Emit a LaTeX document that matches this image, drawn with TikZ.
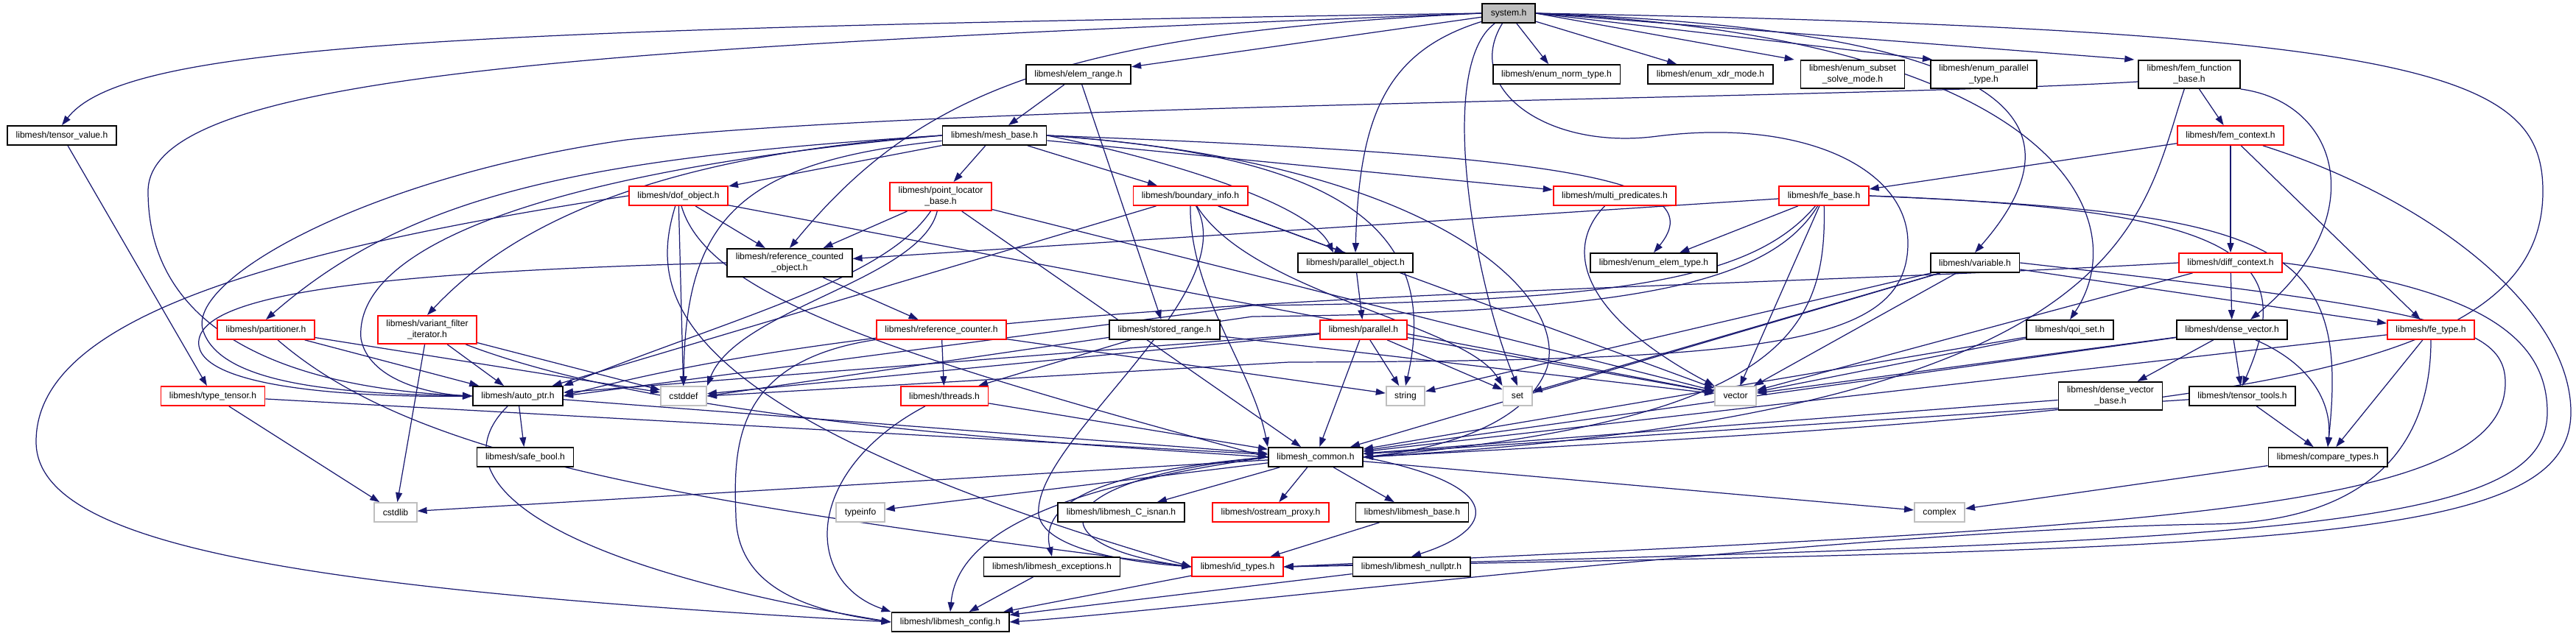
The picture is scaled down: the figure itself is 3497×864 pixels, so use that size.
\documentclass[tikz,border=0pt]{standalone}
\usepackage{fontspec}
\setmainfont{Liberation Sans}
\usepackage{tikz}
\usetikzlibrary{arrows.meta,backgrounds}
\definecolor{edgeblue}{HTML}{191970}
\definecolor{incred}{HTML}{FF0000}
\definecolor{stdgray}{HTML}{BFBFBF}
\tikzset{
  hdr/.style={draw=black, fill=white, line width=0.5pt, align=center,
    inner xsep=1.15mm, inner ysep=0.6mm, minimum height=2.6mm,
    font=\fontsize{3.45}{4.27}\selectfont},
  hdrr/.style={hdr, draw=incred},
  stdh/.style={hdr, draw=stdgray},
  topb/.style={hdr, fill=stdgray},
  inc/.style={-{Triangle[length=1.3mm, width=0.9mm]}, draw=edgeblue, line width=0.35pt},
}

\begin{document}
\begin{tikzpicture}[x=0.01cm, y=-0.01cm]
  \useasboundingbox (0,0) rectangle (3497,864);
  \node[topb] (sys) at (2048,18) {system.h};
  \node[hdr] (tensorvalue) at (84,184) {libmesh/tensor\_value.h};
  \node[hdr] (elemrange) at (1464,101) {libmesh/elem\_range.h};
  \node[hdr] (enumnorm) at (2113,101) {libmesh/enum\_norm\_type.h};
  \node[hdr] (enumxdr) at (2322,101) {libmesh/enum\_xdr\_mode.h};
  \node[hdr] (enumsubset) at (2515,101) {libmesh/enum\_subset\\\_solve\_mode.h};
  \node[hdr] (enumparallel) at (2693,101) {libmesh/enum\_parallel\\\_type.h};
  \node[hdr] (femfunc) at (2972,101) {libmesh/fem\_function\\\_base.h};
  \node[hdr] (meshbase) at (1350,184) {libmesh/mesh\_base.h};
  \node[hdrr] (femcontext) at (3028,184) {libmesh/fem\_context.h};
  \node[hdrr] (dofobject) at (921,266) {libmesh/dof\_object.h};
  \node[hdrr] (pointlocator) at (1277,267) {libmesh/point\_locator\\\_base.h};
  \node[hdrr] (boundaryinfo) at (1616,266) {libmesh/boundary\_info.h};
  \node[hdrr] (multipred) at (2192,266) {libmesh/multi\_predicates.h};
  \node[hdrr] (febase) at (2476,266) {libmesh/fe\_base.h};
  \node[hdr] (refcounted) at (1072,357) {libmesh/reference\_counted\\\_object.h};
  \node[hdr] (parallelobj) at (1840,357) {libmesh/parallel\_object.h};
  \node[hdr] (enumelem) at (2245,357) {libmesh/enum\_elem\_type.h};
  \node[hdr] (variable) at (2681,357) {libmesh/variable.h};
  \node[hdrr] (diffcontext) at (3028,357) {libmesh/diff\_context.h};
  \node[hdrr] (partitioner) at (361,448) {libmesh/partitioner.h};
  \node[hdrr] (variantfilter) at (580,448) {libmesh/variant\_filter\\\_iterator.h};
  \node[hdrr] (refcounter) at (1278,448) {libmesh/reference\_counter.h};
  \node[hdr] (storedrange) at (1581,448) {libmesh/stored\_range.h};
  \node[hdrr] (parallel) at (1851,448) {libmesh/parallel.h};
  \node[hdr] (qoiset) at (2810,448) {libmesh/qoi\_set.h};
  \node[hdr] (densevector) at (3030,448) {libmesh/dense\_vector.h};
  \node[hdrr] (fetype) at (3300,448) {libmesh/fe\_type.h};
  \node[hdrr] (typetensor) at (289,538) {libmesh/type\_tensor.h};
  \node[hdr] (autoptr) at (703,538) {libmesh/auto\_ptr.h};
  \node[stdh] (cstddef) at (928,538) {cstddef};
  \node[hdrr] (threads) at (1282,538) {libmesh/threads.h};
  \node[stdh] (string) at (1908,538) {string};
  \node[stdh] (set) at (2060,538) {set};
  \node[stdh] (vector) at (2356,538) {vector};
  \node[hdr] (densevectorbase) at (2865,538) {libmesh/dense\_vector\\\_base.h};
  \node[hdr] (tensortools) at (3044,538) {libmesh/tensor\_tools.h};
  \node[hdr] (safebool) at (713,621) {libmesh/safe\_bool.h};
  \node[hdr] (common) at (1786,621) {libmesh\_common.h};
  \node[hdr] (comparetypes) at (3160,621) {libmesh/compare\_types.h};
  \node[stdh] (cstdlib) at (537,696) {cstdlib};
  \node[stdh] (typeinfo) at (1168,696) {typeinfo};
  \node[hdr] (cisnan) at (1522,696) {libmesh/libmesh\_C\_isnan.h};
  \node[hdrr] (ostream) at (1725,696) {libmesh/ostream\_proxy.h};
  \node[hdr] (libmeshbase) at (1917,696) {libmesh/libmesh\_base.h};
  \node[stdh] (complex) at (2633,696) {complex};
  \node[hdr] (exceptions) at (1428,770) {libmesh/libmesh\_exceptions.h};
  \node[hdrr] (idtypes) at (1680,770) {libmesh/id\_types.h};
  \node[hdr] (nullptr) at (1916,770) {libmesh/libmesh\_nullptr.h};
  \node[hdr] (config) at (1290,845) {libmesh/libmesh\_config.h};

  \begin{scope}[on background layer]
    % system.h
    \draw[inc] (sys) -- (elemrange);
    \draw[inc] (sys) -- (enumnorm);
    \draw[inc] (sys) -- (enumxdr);
    \draw[inc] (sys.east) -- ([xshift=-0.8mm]enumsubset.north west);
    \draw[inc] (sys.east) -- ([xshift=0.3mm]enumparallel.north west);
    \draw[inc] (sys.east) -- ([xshift=-0.5mm]femfunc.north west);
    \draw[inc] (sys.west) .. controls (600,40) and (170,60) .. (tensorvalue.north);
    \draw[inc] (sys.west) .. controls (800,65) and (201,100) .. (201,260) .. controls (201,480) and (450,530) .. (autoptr.west);
    \draw[inc] (sys.west) .. controls (1450,45) and (1250,120) .. (refcounted.north);
    \draw[inc] (sys) .. controls (1880,70) and (1845,160) .. (parallelobj.north);
    \draw[inc] (sys) .. controls (1950,90) and (2000,380) .. (set.north);
    \draw[inc] (sys.east) .. controls (2700,40) and (2850,150) .. (variable.north);
    \draw[inc] (sys.east) .. controls (2800,50) and (2900,300) .. (qoiset.north);
    \draw[inc] (sys.east) .. controls (3300,40) and (3452,100) .. (3452,260) .. controls (3452,520) and (3000,560) .. (common.east);
    \draw[inc] (sys) .. controls (1985,120) and (2100,205) .. (2250,185) .. controls (2450,160) and (2590,230) .. (2590,330) .. controls (2590,470) and (2400,490) .. (1750,492) -- (cstddef.east);
    % elem_range, mesh_base
    \draw[inc] (elemrange) -- (meshbase);
    \draw[inc] (elemrange) -- (storedrange);
    \draw[inc] (meshbase) -- (dofobject);
    \draw[inc] (meshbase) -- (pointlocator);
    \draw[inc] (meshbase) -- (boundaryinfo);
    \draw[inc] (meshbase) -- (multipred);
    \draw[inc] (meshbase.east) .. controls (2100,210) and (2330,240) .. (enumelem.north);
    \draw[inc] (meshbase.east) .. controls (1600,220) and (1780,280) .. ([xshift=-3mm]parallelobj.north);
    \draw[inc] (meshbase.east) .. controls (1800,210) and (1960,300) .. (string.north);
    \draw[inc] (meshbase.east) .. controls (1950,220) and (2130,400) .. (2100,500) .. controls (2070,580) and (1950,610) .. (common.east);
    \draw[inc] (meshbase.west) .. controls (800,215) and (560,260) .. (partitioner.north);
    \draw[inc] (meshbase.west) .. controls (900,210) and (700,300) .. (variantfilter.north);
    \draw[inc] (meshbase.west) .. controls (760,230) and (480,330) .. (490,460) .. controls (500,515) and (580,535) .. (autoptr.west);
    \draw[inc] (meshbase) .. controls (1000,220) and (930,300) .. (cstddef.north);
    % dof_object, point_locator_base, boundary_info
    \draw[inc] (dofobject) -- (refcounted);
    \draw[inc] (dofobject) -- (cstddef);
    \draw[inc] (dofobject) -- (vector);
    \draw[inc] (dofobject.west) .. controls (300,350) and (49,450) .. (49,600) .. controls (49,740) and (400,800) .. (config.west);
    \draw[inc] (dofobject) .. controls (960,400) and (1200,480) .. (common.west);
    \draw[inc] (dofobject) .. controls (880,400) and (900,560) .. (idtypes.west);
    \draw[inc] (pointlocator) -- (refcounted);
    \draw[inc] (pointlocator) -- (common);
    \draw[inc] (pointlocator) -- (vector);
    \draw[inc] (pointlocator) .. controls (1200,380) and (1000,430) .. (autoptr.north east);
    \draw[inc] (pointlocator) .. controls (1250,380) and (1000,420) .. (cstddef.north east);
    \draw[inc] (boundaryinfo) -- ([xshift=-1.5mm]parallelobj.north);
    \draw[inc] (boundaryinfo) -- (autoptr);
    \draw[inc] (boundaryinfo) -- (vector);
    \draw[inc] (boundaryinfo) .. controls (1615,400) and (1700,500) .. (common.north west);
    \draw[inc] (boundaryinfo) .. controls (1690,400) and (1400,600) .. (1410,700) .. controls (1420,750) and (1550,765) .. (idtypes.west);
    \draw[inc] (boundaryinfo) .. controls (1700,400) and (1990,440) .. (set.north west);
    \draw[inc] (multipred) .. controls (2120,340) and (2150,430) .. (vector.north west);
    % fe_base, fem_function_base, fem_context, diff_context
    \draw[inc] (febase) -- (refcounted);
    \draw[inc] (febase) -- (enumelem);
    \draw[inc] (febase) -- (vector);
    \draw[inc] (febase) .. controls (2380,380) and (2200,410) .. (1700,415) -- (autoptr.east);
    \draw[inc] (febase) .. controls (2400,390) and (2200,425) .. (1700,430) -- (cstddef.east);
    \draw[inc] (febase) .. controls (2480,450) and (2420,570) .. (common.east);
    \draw[inc] (febase.east) .. controls (3100,290) and (3190,330) .. (comparetypes.north);
    \draw[inc] (febase.east) .. controls (3050,285) and (3120,350) .. (tensortools.north);
    \draw[inc] (femfunc) -- (femcontext);
    \draw[inc] (femfunc.south east) .. controls (3180,140) and (3220,300) .. ([xshift=2.5mm]densevector.north);
    \draw[inc] (femfunc) .. controls (2905,300) and (2900,560) .. (common.east);
    \draw[inc] ([yshift=-1mm]femfunc.west) .. controls (2500,135) and (1300,140) .. (850,190) .. controls (500,240) and (250,380) .. (276,450) .. controls (300,520) and (450,535) .. (autoptr.west);
    \draw[inc] (femcontext) -- (febase);
    \draw[inc] (femcontext) -- (diffcontext);
    \draw[inc] (femcontext) -- (fetype);
    \draw[inc] (femcontext) .. controls (3300,270) and (3490,420) .. (3490,560) .. controls (3490,740) and (3100,745) .. (idtypes.east);
    \draw[inc] (diffcontext) -- (densevector);
    \draw[inc] (diffcontext) -- (vector);
    \draw[inc] (diffcontext.east) .. controls (3350,390) and (3458,450) .. (3458,560) .. controls (3458,720) and (3100,735) .. (idtypes.east);
    \draw[inc] (diffcontext.west) .. controls (2200,400) and (1300,395) .. (autoptr.east);
    % variable, qoi_set, dense_vector, fe_type
    \draw[inc] (variable) -- (fetype);
    \draw[inc] (variable) -- (string);
    \draw[inc] (variable) -- (set);
    \draw[inc] (variable) -- (vector);
    \draw[inc] (variable) -- (common);
    \draw[inc] (variable.east) .. controls (3300,420) and (3401,440) .. (3401,520) .. controls (3401,700) and (2900,715) .. (idtypes.east);
    \draw[inc] (qoiset) -- (vector);
    \draw[inc] (qoiset) -- (common);
    \draw[inc] (densevector) -- (densevectorbase);
    \draw[inc] (densevector) -- (tensortools);
    \draw[inc] (densevector) -- (vector);
    \draw[inc] (densevector) -- (common);
    \draw[inc] (densevector) .. controls (3150,500) and (3165,560) .. (comparetypes.north);
    \draw[inc] (densevectorbase) -- (common);
    \draw[inc] (tensortools) -- (comparetypes);
    \draw[inc] (tensortools) -- (common);
    \draw[inc] (fetype) -- (comparetypes);
    \draw[inc] (fetype) -- (common);
    \draw[inc] (fetype) .. controls (3300,620) and (3200,710) .. (3000,712) .. controls (2500,720) and (1600,830) .. (config.east);
    \draw[inc] (comparetypes) -- (complex);
    % parallel, reference counting, threads
    \draw[inc] (parallelobj) -- (parallel);
    \draw[inc] (parallel) -- (common);
    \draw[inc] (parallel) -- (string);
    \draw[inc] (parallel) -- (set);
    \draw[inc] (parallel) -- (vector);
    \draw[inc] (parallel) -- (autoptr);
    \draw[inc] (parallel) -- (cstddef);
    \draw[inc] (refcounted) -- (refcounter);
    \draw[inc] (refcounted.west) .. controls (500,370) and (260,400) .. (270,470) .. controls (280,530) and (500,540) .. (autoptr.west);
    \draw[inc] (refcounter) -- (threads);
    \draw[inc] (refcounter) -- (string);
    \draw[inc] (refcounter) .. controls (1000,490) and (995,600) .. (999,700) .. controls (1000,800) and (1100,830) .. (config.west);
    \draw[inc] (storedrange) -- (threads);
    \draw[inc] (storedrange) -- (vector);
    \draw[inc] (threads) -- (common);
    \draw[inc] (threads) .. controls (1090,640) and (1090,790) .. (config.north west);
    % left side
    \draw[inc] (tensorvalue) -- (typetensor);
    \draw[inc] (typetensor) -- (cstdlib);
    \draw[inc] (typetensor) -- (common);
    \draw[inc] (partitioner) -- (autoptr);
    \draw[inc] (partitioner) -- (cstddef);
    \draw[inc] (partitioner) .. controls (560,620) and (900,680) .. (idtypes.west);
    \draw[inc] (variantfilter) -- (autoptr);
    \draw[inc] (variantfilter) -- (cstdlib);
    \draw[inc] (variantfilter) -- (cstddef);
    \draw[inc] (variantfilter) .. controls (900,570) and (1400,600) .. (common.west);
    \draw[inc] (autoptr) -- (safebool);
    \draw[inc] (autoptr) -- (common);
    \draw[inc] (autoptr) .. controls (600,640) and (700,760) .. (config.west);
    % libmesh_common
    \draw[inc] (common) -- (cstdlib);
    \draw[inc] (common) -- (typeinfo);
    \draw[inc] (common) -- (cisnan);
    \draw[inc] (common) -- (ostream);
    \draw[inc] (common) -- (libmeshbase);
    \draw[inc] (common) -- (complex);
    \draw[inc] (common.west) .. controls (1500,640) and (1410,680) .. (exceptions.north);
    \draw[inc] (common.west) .. controls (1450,660) and (1300,720) .. (config.north);
    \draw[inc] (common.west) .. controls (1420,650) and (1400,740) .. (idtypes.west);
    \draw[inc] (common.east) .. controls (2050,660) and (2030,720) .. (nullptr.north);
    \draw[inc] (libmeshbase) -- (idtypes);
    \draw[inc] (exceptions) -- (config);
    \draw[inc] (idtypes) -- (config);
    \draw[inc] (nullptr) -- (config);
  \end{scope}
\end{tikzpicture}
\end{document}
